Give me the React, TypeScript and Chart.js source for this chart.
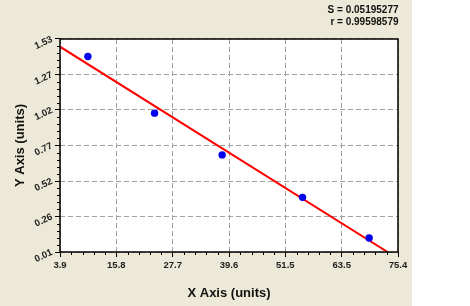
import React, { useEffect, useRef } from 'react';
import { Chart, registerables } from 'chart.js';
Chart.register(...registerables);

// ---- data ----
const xValues = [9.8, 23.9, 38.2, 55.2, 69.3];
const yValues = [1.405, 1.001, 0.703, 0.4, 0.11];
const fitX = [3.9, 73.2];
const fitY = [1.475, 0.01];
const xTickLabels = ['3.9', '15.8', '27.7', '39.6', '51.5', '63.5', '75.4'];
const yTickLabels = ['0.01', '0.26', '0.52', '0.77', '1.02', '1.27', '1.53'];
const statLines = ['S = 0.05195277', 'r = 0.99598579'];
const xMin = 3.9, xMax = 75.4, yMin = 0.01, yMax = 1.53;

const FONT = '"Liberation Sans", Arial, sans-serif';

const decoPlugin = {
  id: 'deco',
  beforeDraw(chart: any) {
    const { ctx, chartArea: a } = chart;
    ctx.save();
    ctx.fillStyle = '#ECE9D8';
    ctx.fillRect(0, 0, 412, chart.height);
    ctx.fillStyle = '#FFFFFF';
    ctx.fillRect(a.left, a.top, a.right - a.left, a.bottom - a.top);
    ctx.restore();
  },
  afterDraw(chart: any) {
    const { ctx, chartArea: a } = chart;
    const xs = chart.scales.x, ys = chart.scales.y;
    ctx.save();
    // minor ticks
    ctx.strokeStyle = '#000';
    ctx.lineWidth = 1;
    ctx.beginPath();
    const xt = xs.ticks.map((t: any) => t.value);
    for (let i = 0; i < xt.length - 1; i++) {
      for (let k = 1; k < 5; k++) {
        const v = xt[i] + (xt[i + 1] - xt[i]) * k / 5;
        const px = Math.round(xs.getPixelForValue(v)) + 0.5;
        ctx.moveTo(px, a.bottom);
        ctx.lineTo(px, a.bottom + 3);
      }
    }
    const yt = ys.ticks.map((t: any) => t.value);
    for (let i = 0; i < yt.length - 1; i++) {
      for (let k = 1; k < 5; k++) {
        const v = yt[i] + (yt[i + 1] - yt[i]) * k / 5;
        const py = Math.round(ys.getPixelForValue(v)) + 0.5;
        ctx.moveTo(a.left, py);
        ctx.lineTo(a.left - 3, py);
      }
    }
    ctx.stroke();
    // border
    ctx.lineWidth = 1.5;
    ctx.strokeRect(a.left, a.top, a.right - a.left, a.bottom - a.top);
    // stats text
    ctx.fillStyle = '#111';
    ctx.font = 'bold 10px ' + FONT;
    ctx.textAlign = 'right';
    ctx.textBaseline = 'middle';
    statLines.forEach((s, i) => ctx.fillText(s, a.right + 0.5, 10 + i * 12.7));
    ctx.restore();
  },
};

export default function App() {
  const ref = useRef<HTMLCanvasElement>(null);
  useEffect(() => {
    const chart = new Chart(ref.current!, {
      type: 'scatter',
      data: {
        datasets: [
          {
            data: fitX.map((x, i) => ({ x, y: fitY[i] })),
            showLine: true,
            borderColor: '#FF0000',
            borderWidth: 2,
            pointRadius: 0,
            order: 2,
          },
          {
            data: xValues.map((x, i) => ({ x, y: yValues[i] })),
            backgroundColor: '#0000EE',
            borderColor: '#0000EE',
            borderWidth: 0,
            pointRadius: 3.7,
            order: 1,
          },
        ],
      },
      options: {
        responsive: false,
        animation: false,
        layout: { padding: { left: 0, top: 39, right: 72, bottom: 0 } },
        plugins: { legend: { display: false }, tooltip: { enabled: false } },
        scales: {
          x: {
            type: 'linear',
            min: xMin,
            max: xMax,
            afterBuildTicks: (s: any) => {
              s.ticks = xTickLabels.map((_, i) => ({ value: xMin + (i * (xMax - xMin)) / 6 }));
            },
            afterFit: (s: any) => {
              s.height = 54;
              s.paddingLeft = 0;
              s.paddingRight = 0;
            },
            ticks: {
              callback: (_v: any, i: number) => xTickLabels[i],
              font: { family: FONT, size: 9.5, weight: 'bold' },
              color: '#222',
              padding: 3,
              maxRotation: 0,
              autoSkip: false,
            },
            grid: {
              color: '#A0A0A0',
              lineWidth: 1,
              tickColor: '#000',
              tickLength: 5,
              tickBorderDash: [],
            },
            border: { display: false, dash: [5, 3] },
            title: {
              display: true,
              text: 'X Axis (units)',
              font: { family: FONT, size: 13, weight: 'bold' },
              color: '#111',
              padding: { top: 0, bottom: 5 },
            },
          },
          y: {
            type: 'linear',
            min: yMin,
            max: yMax,
            afterBuildTicks: (s: any) => {
              s.ticks = yTickLabels.map((_, i) => ({ value: yMin + (i * (yMax - yMin)) / 6 }));
            },
            afterFit: (s: any) => {
              s.width = 60;
              s.paddingTop = 0;
              s.paddingBottom = 0;
            },
            ticks: {
              callback: (_v: any, i: number) => yTickLabels[i],
              font: { family: FONT, size: 9.5, weight: 'bold' },
              color: '#222',
              padding: 3,
              minRotation: 25,
              maxRotation: 25,
              autoSkip: false,
            },
            grid: {
              color: '#A0A0A0',
              lineWidth: 1,
              tickColor: '#000',
              tickLength: 5,
              tickBorderDash: [],
            },
            border: { display: false, dash: [5, 3] },
            title: {
              display: true,
              text: 'Y Axis (units)',
              font: { family: FONT, size: 13, weight: 'bold' },
              color: '#111',
              padding: { top: 13, bottom: 0 },
            },
          },
        },
      },
      plugins: [decoPlugin],
    } as any);
    return () => chart.destroy();
  }, []);
  return (
    <div style={{ position: 'absolute', left: 0, top: 0, width: 470, height: 306 }}>
      <canvas ref={ref} width={470} height={306} style={{ display: 'block' }} />
    </div>
  );
}
